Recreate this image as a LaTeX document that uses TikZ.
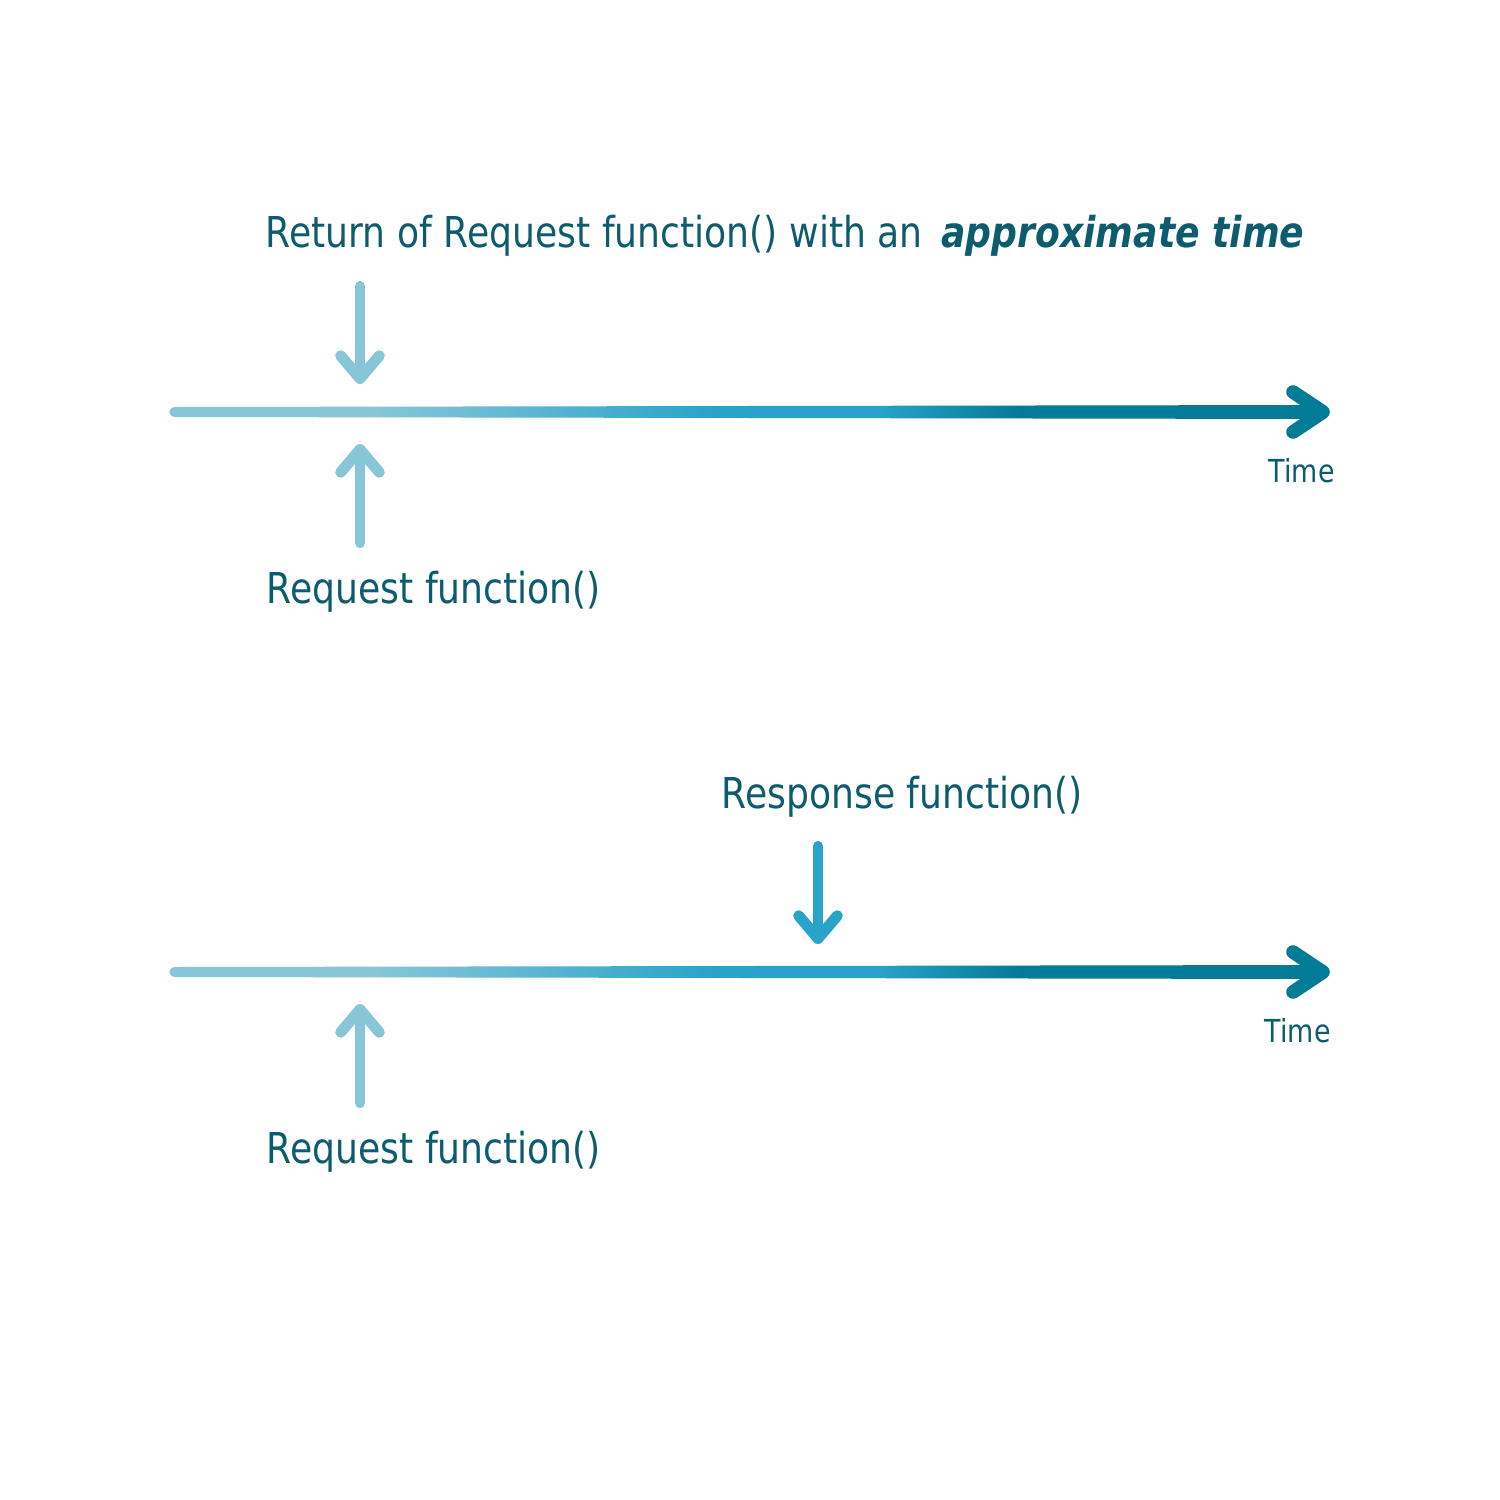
\documentclass[tikz,border=0pt]{standalone}
\usepackage{fontspec}
\setmainfont{DejaVu Sans}[FakeStretch=0.85]
\usepackage{xcolor}
\usetikzlibrary{arrows.meta}

\definecolor{tlLight}{HTML}{86C6D7}
\definecolor{tlMid}{HTML}{28A3CA}
\definecolor{tlDark}{HTML}{027B96}
\definecolor{lblTeal}{HTML}{0D5C6E}

\pgfdeclarehorizontalshading{timeline}{100bp}{color(0bp)=(tlLight); color(34bp)=(tlLight);
  color(48.9bp)=(tlMid); color(55.8bp)=(tlMid); color(62bp)=(tlDark); color(100bp)=(tlDark)}

\tikzset{
  lbl/.style={text=lblTeal, inner sep=0pt, anchor=base west, font=\fontsize{12.1}{14}\selectfont},
  timelbl/.style={lbl, font=\fontsize{9}{11}\selectfont},
  callarrow/.style={line width=2.9pt, line cap=round,
    -{Straight Barb[length=6.5pt, width=11pt, round, line width=3.1pt]}},
  tlhead/.style={draw=tlDark, line width=3.9pt, line cap=round, line join=round}
}

\begin{document}
\begin{tikzpicture}[x=0.01cm, y=-0.01cm]
  \useasboundingbox (0,0) rectangle (1500,1500);

  % first timeline: approximate time
  \begin{scope}
    \shade[shading=timeline] (176,407) -- (1320,405) -- (1320,419) -- (176,417)
      .. controls (167,417) and (167,407) .. cycle;
    \coordinate (tl1e) at (1323,412);
    \draw[tlhead] (tl1e) ++(-30,-20) -- (tl1e) -- ++(-30,20);
    \node[timelbl] (time1) at (1268,482) {Time};

    \node[lbl] (ret1) at (265,248) {Return of Request function() with an\hspace{2pt} \textbf{\textit{approximate time}}};
    \coordinate (ret1s) at (360,286);
    \coordinate (ret1t) at (360,384);
    \draw[callarrow, tlLight] (ret1s) -- (ret1t);

    \node[lbl] (req1) at (266,603) {Request function()};
    \coordinate (req1s) at (360,543);
    \coordinate (req1t) at (360,444);
    \draw[callarrow, tlLight] (req1s) -- (req1t);
  \end{scope}

  % second timeline: response function
  \begin{scope}[shift={(0,560)}]
    \shade[shading=timeline] (176,407) -- (1320,405) -- (1320,419) -- (176,417)
      .. controls (167,417) and (167,407) .. cycle;
    \coordinate (tl2e) at (1323,412);
    \draw[tlhead] (tl2e) ++(-30,-20) -- (tl2e) -- ++(-30,20);
    \node[timelbl] (time2) at (1264,482) {Time};

    \node[lbl] (resp2) at (721,248) {Response function()};
    \coordinate (resp2s) at (818,286);
    \coordinate (resp2t) at (818,384);
    \draw[callarrow, tlMid] (resp2s) -- (resp2t);

    \node[lbl] (req2) at (266,603) {Request function()};
    \coordinate (req2s) at (360,543);
    \coordinate (req2t) at (360,444);
    \draw[callarrow, tlLight] (req2s) -- (req2t);
  \end{scope}
\end{tikzpicture}
\end{document}
